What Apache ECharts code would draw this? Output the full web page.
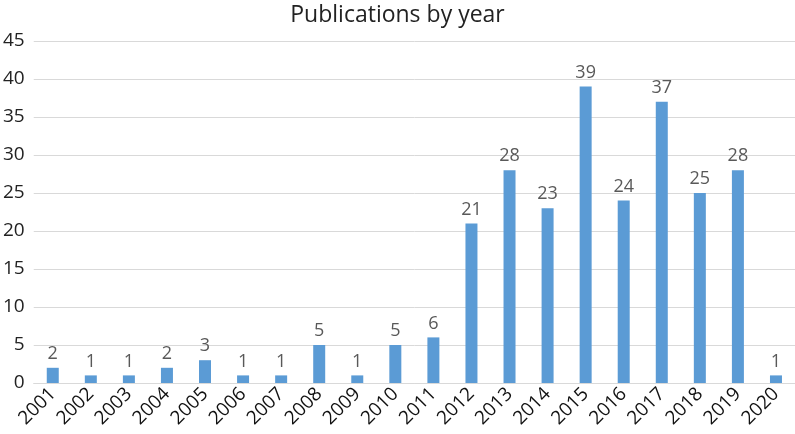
<!DOCTYPE html>
<html>
<head>
<meta charset="utf-8">
<script src="https://cdn.jsdelivr.net/npm/echarts@6/dist/echarts.min.js"></script>
<style>
  html, body { margin: 0; padding: 0; background: #fff; }
  #chart { width: 795px; height: 434px; }
</style>
</head>
<body>
<div id="chart"></div>
<script>
// data
const years = ['2001', '2002', '2003', '2004', '2005', '2006', '2007', '2008', '2009', '2010',
  '2011', '2012', '2013', '2014', '2015', '2016', '2017', '2018', '2019', '2020']
const counts = [2, 1, 1, 2, 3, 1, 1, 5, 1, 5, 6, 21, 28, 23, 39, 24, 37, 25, 28, 1]
const yTicks = [0, 45, 5] // min, max, step

const font = 'Open Sans, Liberation Sans, sans-serif'
const myChart = echarts.init(document.getElementById('chart'))
const option = {
  animation: false,
  backgroundColor: '#fff',
  title: {
    text: 'Publications by year',
    left: 'center',
    top: -1,
    textStyle: { fontFamily: font, fontSize: 23, fontWeight: 'normal', color: '#222' }
  },
  grid: { left: 31, right: 0, top: 41, bottom: 51, containLabel: false },
  xAxis: {
    type: 'category',
    data: years,
    axisLine: { lineStyle: { color: '#d9d9d9' } },
    axisTick: { show: false },
    axisLabel: {
      rotate: 45,
      interval: 0,
      margin: 8,
      fontFamily: font,
      fontSize: 19,
      color: '#111'
    }
  },
  yAxis: {
    type: 'value',
    min: yTicks[0],
    max: yTicks[1],
    interval: yTicks[2],
    axisLine: { show: false },
    axisTick: { show: false },
    splitLine: { lineStyle: { color: '#d9d9d9', width: 1 } },
    axisLabel: { fontFamily: font, fontSize: 19, color: '#222', margin: 9 }
  },
  series: [
    {
      type: 'bar',
      data: counts,
      barWidth: 12,
      itemStyle: { color: '#5b9bd5' },
      label: {
        show: true,
        position: 'top',
        distance: 5,
        fontFamily: font,
        fontSize: 18,
        color: '#595959'
      }
    }
  ]
}
myChart.setOption(option)
</script>
</body>
</html>
